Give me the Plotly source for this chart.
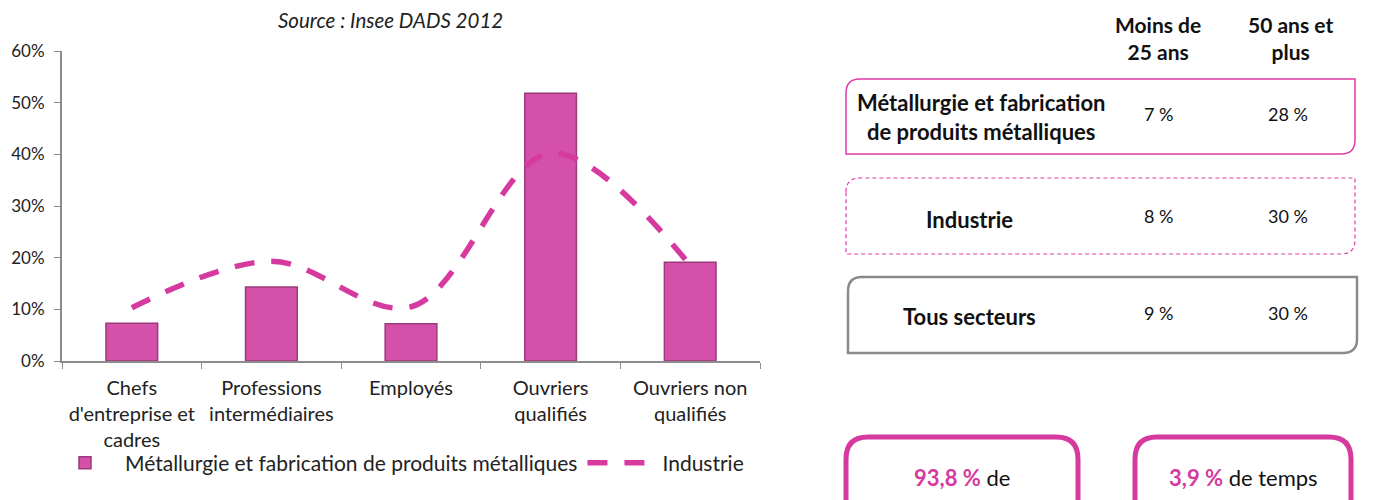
import plotly.graph_objects as go

categories = ["Chefs<br>d'entreprise et<br>cadres", "Professions<br>intermédiaires", "Employés",
              "Ouvriers<br>qualifiés", "Ouvriers non<br>qualifiés"]
metallurgie = [0.073, 0.143, 0.072, 0.518, 0.191]
industrie = [0.103, 0.193, 0.105, 0.402, 0.185]
y_ticks = [0, 0.1, 0.2, 0.3, 0.4, 0.5, 0.6]

col_headers = ["Moins de<br>25 ans", "50 ans et<br>plus"]
row_labels = ["Métallurgie et fabrication<br>de produits métalliques", "Industrie", "Tous secteurs"]
moins25 = ["7 %", "8 %", "9 %"]
plus50 = ["28 %", "30 %", "30 %"]

OFF = 8  # page body margin
W, H = 1386 - OFF, 500 - OFF
FONT = "Lato"
PINK = "#d63a9e"

def px(x):
    return (x - OFF) / W

def py(y):
    return 1 - (y - OFF) / H

fig = go.Figure()
fig.add_trace(go.Bar(
    x=categories, y=metallurgie, name="Métallurgie et fabrication de produits métalliques",
    marker=dict(color="#d551a9", line=dict(color="#9a3a7a", width=1.5)), width=0.37,
))
fig.add_trace(go.Scatter(
    x=categories, y=industrie, name="Industrie", mode="lines",
    line=dict(color=PINK, width=5.5, dash="20px,17px", shape="spline", smoothing=1.0),
))

fig.update_layout(
    width=W, height=H,
    margin=dict(l=0, r=0, t=0, b=0, autoexpand=False),
    paper_bgcolor="white", plot_bgcolor="white",
    font=dict(family=FONT, size=17, color="#222"),
    showlegend=True,
    legend=dict(orientation="h", x=px(45), y=py(463), xanchor="left", yanchor="middle",
                font=dict(size=21, color="#222"), itemwidth=70, bgcolor="rgba(0,0,0,0)"),
    xaxis=dict(domain=[px(62), px(760)], showline=True, linecolor="#8c8c8c", linewidth=2,
               ticks="outside", tickson="boundaries", ticklen=6, tickcolor="#8c8c8c",
               showgrid=False, automargin=False, ticklabelstandoff=8,
               tickfont=dict(size=20, color="#222")),
    yaxis=dict(domain=[py(361), py(51)], range=[0, 0.6], tickvals=y_ticks, tickformat=".0%",
               showline=True, linecolor="#8c8c8c", linewidth=2, ticks="outside", ticklen=6,
               tickcolor="#8c8c8c", showgrid=False, zeroline=False, automargin=False,
               ticklabelstandoff=6, tickfont=dict(size=17, color="#222")),
)

def A(text, x, y, size, color="#111"):
    return dict(text=text, x=px(x), y=py(y), xref="paper", yref="paper", xanchor="center",
                yanchor="middle", showarrow=False, font=dict(size=size, color=color))

ann = [A("<i>Source : Insee DADS 2012</i>", 390, 20, 20.5, "#222")]

for t, cx in zip(col_headers, [1158, 1290]):
    ann.append(A("<b>" + t + "</b>", cx, 38, 21))

row_y = [117, 219, 316]
label_x = [981, 970, 970]
for lab, a, b, ry, lx in zip(row_labels, moins25, plus50, row_y, label_x):
    ann.append(A("<b>" + lab + "</b>", lx, ry, 22))
    ann.append(A(a, 1158, ry - 3, 18))
    ann.append(A(b, 1288, ry - 3, 18))

ann.append(A(f"<b><span style='color:{PINK}'>93,8 %</span></b> de", 962, 477, 22))
ann.append(A(f"<b><span style='color:{PINK}'>3,9 %</span></b> de temps", 1243, 477, 22))
fig.update_layout(annotations=ann)

def diag_box(x0, y0, x1, y1, r=14):
    pts = [
        f"M {px(x0)},{py(y0 + r)}",
        f"Q {px(x0)},{py(y0)} {px(x0 + r)},{py(y0)}",
        f"L {px(x1)},{py(y0)}",
        f"L {px(x1)},{py(y1 - r)}",
        f"Q {px(x1)},{py(y1)} {px(x1 - r)},{py(y1)}",
        f"L {px(x0)},{py(y1)}",
        "Z",
    ]
    return " ".join(pts)

def round_box(x0, y0, x1, y1, r=22):
    pts = [
        f"M {px(x0)},{py(y1)}",
        f"L {px(x0)},{py(y0 + r)}",
        f"Q {px(x0)},{py(y0)} {px(x0 + r)},{py(y0)}",
        f"L {px(x1 - r)},{py(y0)}",
        f"Q {px(x1)},{py(y0)} {px(x1)},{py(y0 + r)}",
        f"L {px(x1)},{py(y1)}",
    ]
    return " ".join(pts)

shapes = [
    dict(type="path", path=diag_box(846, 79, 1355, 154), xref="paper", yref="paper",
         line=dict(color="#e03aa8", width=1.5)),
    dict(type="path", path=diag_box(846, 178, 1355, 254), xref="paper", yref="paper",
         line=dict(color="#e03aa8", width=1.2, dash="4px,3px")),
    dict(type="path", path=diag_box(848, 277, 1357, 353), xref="paper", yref="paper",
         line=dict(color="#8a8a8a", width=2.5)),
    dict(type="path", path=round_box(846, 437, 1078, 505), xref="paper", yref="paper",
         line=dict(color=PINK, width=5)),
    dict(type="path", path=round_box(1135, 437, 1351, 505), xref="paper", yref="paper",
         line=dict(color=PINK, width=5)),
]
fig.update_layout(shapes=shapes)

fig.write_html("out.html")
